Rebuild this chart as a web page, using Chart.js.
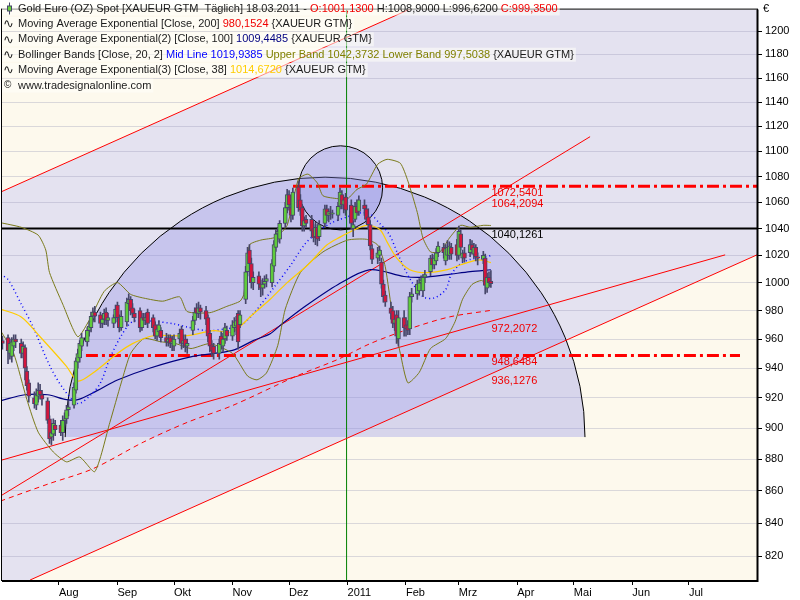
<!DOCTYPE html>
<html>
<head>
<title>Gold Euro (OZ) Spot</title>
<script src="https://cdn.jsdelivr.net/npm/chart.js"></script>
<style>
  html, body { margin: 0; padding: 0; background: #fff; }
  #chart { display: block; }
</style>
</head>
<body>
<canvas id="chart" width="800" height="600"></canvas>
<script>
// daily candles, 1 Jul 2010 .. 18 Mar 2011 (weekdays), grouped by month
const opens = [
  962,959, 961,950,948,955,960, 957,950,954,938,930, 920,915,921,925,922, 918,906,894,896,902,
  902,897,905,906,912, 915,925,944,947,955, 958,966,968,976,979, 977,971,974,979,973, 971,975,
  984,975,968, 972,985,988,982,978, 980,968,975,973,979, 975,970,962,965,966, 961,958,961,957,
  955, 960,967,957,960,955, 966,973,982,978,982, 980,975,964,956,955, 950,962,955,960,966,
  962,968,969,978,970, 988,1008,1024,1014,1000, 1005,999,996,999,1001, 1000,1012,1026,1036,1032, 1044,1056,
  1066,1056,1050, 1072,1062,1056,1042,1047, 1047,1040,1034,1041,1034, 1044,1055,1050,1052,1051, 1050,1057,1066,1058,1064,
  1058,1040,1047,1057,1053, 1058,1055,1049,1043,1025, 1018,1020,1015,999,991, 982,980,971,977,960, 975,
  970,970,967,990, 992,994,1000,994,1004, 1008,1018,1013,1016,1022, 1026,1016,1020,1020,1026, 1028,
  1020,1036,1018,1022, 1022,1028,1021,1026,1019, 1017,1018,996,1004,1001.13
];
const highs = [
  966,962, 963,960,961,963,963, 960,958,956,941,932, 924,926,930,929,925, 920,908,902,906,905,
  905,908,910,915,918, 930,947,953,959,964, 968,972,979,982,983, 979,977,981,982,978, 977,984,
  986,977,980, 989,992,990,985,981, 982,978,978,978,981, 977,972,970,973,968, 964,963,963,962,
  963, 967,969,963,963,960, 976,982,985,986,984, 983,977,966,959,957, 960,965,964,971,969,
  973,975,976,980,980, 1012,1026,1028,1018,1008, 1008,1002,1003,1005,1006, 1017,1031,1039,1041,1046, 1060,1070,
  1069,1060,1071, 1076,1066,1058,1049,1050, 1050,1043,1045,1043,1046, 1058,1058,1055,1057,1054, 1060,1071,1069,1064,1067,
  1062,1046,1060,1062,1065, 1062,1058,1055,1046,1028, 1026,1027,1018,1002,994, 986,983,977,980,980, 980,
  975,973,993,996, 1002,1003,1005,1006,1009, 1020,1021,1020,1025,1030, 1029,1028,1031,1030,1029, 1032,
  1042,1039,1024,1026, 1032,1031,1029,1028,1022, 1023,1021,1007,1008,1008.9
];
const lows = [
  956,953, 943,946,944,952,954, 947,947,932,925,917, 913,912,917,919,915, 903,890,889,892,895,
  895,892,902,903,908, 913,923,940,944,952, 955,962,965,972,972, 968,968,970,970,969, 968,972,
  972,965,966, 969,982,977,975,972, 965,966,970,970,968, 965,960,959,962,958, 955,955,954,952,
  952, 957,953,954,951,950, 963,970,975,975,974, 970,958,951,948,946, 946,953,951,957,959,
  959,965,963,953,968, 985,1005,1010,996,995, 995,990,991,996,997, 997,1008,1023,1030,1029, 1041,1052,
  1054,1045,1047, 1053,1050,1038,1038,1041, 1034,1030,1028,1027,1031, 1041,1046,1045,1047,1048, 1046,1055,1055,1052,1050,
  1040,1034,1045,1050,1050, 1050,1044,1040,1024,1014, 1014,1016,996,986,983, 974,968,966,957,955, 962,
  962,963,963,986, 988,991,996,990,1000, 1005,1010,1010,1013,1019, 1018,1013,1017,1017,1017, 1016,
  1017,1024,1015,1015, 1019,1021,1018,1016,1013, 1014,992,993,997,996.62
];
const closes = [
  959,957, 952,957,958,960,958, 950,955,940,928,921, 916,922,925,922,919, 905,893,897,903,899,
  897,905,906,912,914, 927,945,950,957,961, 966,969,976,979,976, 971,974,978,973,975, 975,981,
  975,968,976, 986,988,980,978,975, 968,975,973,975,971, 968,962,967,970,961, 958,960,957,958,
  960, 964,957,959,955,957, 973,979,978,982,979, 974,962,955,952,950, 957,956,960,968,962,
  970,972,973,958,977, 1008,1022,1014,1000,1004, 999,996,999,1001,1003, 1014,1028,1036,1038,1044, 1056,1066,
  1058,1050,1068, 1056,1054,1042,1046,1044, 1038,1033,1041,1032,1043, 1055,1050,1053,1051,1052, 1057,1068,1058,1062,1054,
  1044,1043,1057,1052,1062, 1055,1047,1043,1027,1017, 1022,1024,999,990,986, 978,971,974,962,975, 968,
  967,966,990,992, 999,1000,1002,1004,1006, 1018,1013,1018,1022,1027, 1022,1025,1026,1027,1021, 1020,
  1038,1026,1022,1018, 1028,1024,1026,1019,1018, 1020,998,1004,1000,999.35
];

// indicator lines: [day, price], day 0 = 1 Aug 2010
const ema200 = [[-31,853.6],[-5,864.5],[18,873.8],[45,891],[68,903.7],[92,914.8],[126,934.6],[148,946],[165,956.8],[186,967.2],[207,975.5],[229,980.15]];
const ema100 = [[-31,918],[-18,922],[-6,922],[4,918.7],[10,918.7],[20,924.6],[31,931.9],[48,939.9],[71,948],[92,952.1],[103,958.9],[112,963.7],[117,969.2],[130,982.5],[148,998.7],[165,1009.5],[183,1004.5],[193,1003.9],[206,1005.9],[218,1008.1],[229,1009.45]];
const ema38 = [[-31,981.1],[-20,975.5],[-10,961.6],[4,941.2],[10,931.2],[18,936.6],[31,950],[39,956.8],[50,962.3],[68,962.3],[82,965.8],[92,965.1],[103,977.6],[112,988.1],[121,1000.1],[132,1013.1],[142,1027.7],[149,1033.6],[154,1037.3],[163,1042.5],[170,1039.5],[174,1029.9],[179,1018.2],[186,1009.5],[195,1007.3],[206,1009.5],[213,1013.1],[223,1016.7],[229,1014.67]];
const bbMid = [[-31,1006],[-27,1002.3],[-20,984.6],[-14,969.2],[-5,941.9],[2,926.6],[10,916.1],[17,922],[22,929.9],[27,946.6],[33,962.3],[39,972.1],[48,972.7],[61,970.6],[68,968.4],[79,965.8],[89,967.2],[96,969.2],[103,977.6],[114,996.6],[123,1013.1],[130,1027.7],[137,1037.3],[144,1044],[153,1049],[160,1052],[165,1051],[170,1044],[175,1036],[180,1020],[186,1003],[193,990],[199,989],[205,995],[208,1006],[213,1014],[218,1017],[227,1019],[229,1019.94]];
const bbUpper = [[-31,1044.5],[-20,1041],[-11,1035.1],[-7,1024],[-5,1007.4],[2,984.6],[10,961.6],[17,975.5],[24,993.8],[31,1000.1],[38,991.6],[45,988.9],[55,986.7],[64,989.8],[68,979.3],[80,978.5],[89,983],[96,986.7],[98,991.6],[101,1027.7],[107,1031.4],[115,1033.6],[121,1042.5],[127,1078.1],[132,1081.9],[137,1075],[140,1065.1],[148,1062.8],[153,1062.8],[158,1070],[163,1074],[169,1089.7],[174,1093.6],[181,1090.5],[185,1076.5],[190,1052.2],[193,1032.9],[197,1022.6],[202,1022.6],[207,1032.9],[213,1042.5],[218,1041],[225,1042.5],[229,1042.37]];
const bbLower = [[-31,966],[-24,950],[-17,918.7],[-11,897.3],[-3,884.5],[4,878.2],[11,881.3],[19,872],[27,903.7],[33,929.9],[38,950],[45,960.3],[54,958.1],[62,956.8],[70,953.4],[80,956.8],[92,950],[100,934.6],[105,932],[110,936.6],[116,955.5],[120,981.1],[128,1007.4],[140,1022.6],[153,1031.4],[163,1032],[169,1027.7],[173,1011.7],[177,975],[181,950],[185,930],[191,937],[197,953.4],[205,960.3],[210,972.1],[214,988.1],[219,998.7],[224,1001.6],[229,997.5]];

// drawing tools on the chart: [day, price]
const channelTop = [[-31.3,1067.7],[186.7,1219.9]];
const channelBottom = [[-15.3,806.1],[370.1,1020.4]];
const steepLine = [[-31.3,856.5],[281.6,1111.7]];
const flatLine = [[-31.3,879],[353.2,1020.4]];
const highLevel = [[124.1,1072.5401],[370.1,1072.5401]];
const lowLevel = [[14.3,948.6484],[361.1,948.6484]];
const blackLevel = [[-31.3,1040.1261],[371,1040.1261]];
const yearLine = [[152.5,806],[152.5,1219]];
const arcCenter = [141.1, 894.1];
const arcRadius = 137.8;
const ringCenter = [149.3, 1071.2];
const ringRadius = 22.3;

const levelValues = [1072.5401, 1064.2094, 1040.1261, 972.2072, 948.6484, 936.1276];
const levelTexts = ['1072,5401', '1064,2094', '1040,1261', '972,2072', '948,6484', '936,1276'];
const levelColors = ['#f00000', '#f00000', '#000000', '#f00000', '#f00000', '#f00000'];

const monthDays = [0, 31, 61, 92, 122, 153, 184, 212, 243, 273, 304, 334];
const monthNames = ['Aug', 'Sep', 'Okt', 'Nov', 'Dez', '2011', 'Feb', 'Mrz', 'Apr', 'Mai', 'Jun', 'Jul'];
const yTicks = [820, 840, 860, 880, 900, 920, 940, 960, 980, 1000, 1020, 1040, 1060, 1080, 1100, 1120, 1140, 1160, 1180, 1200];

const legendLines = [
  [['Gold Euro (OZ) Spot [XAUEUR GTM  Täglich] 18.03.2011 - ', '#1a1a1a'], ['O:1001,1300', '#f00000'], [' H:1008,9000 L:996,6200 ', '#1a1a1a'], ['C:999,3500', '#f00000']],
  [['Moving Average Exponential [Close, 200] ', '#1a1a1a'], ['980,1524', '#f00000'], [' {XAUEUR GTM}', '#1a1a1a']],
  [['Moving Average Exponential(2) [Close, 100] ', '#1a1a1a'], ['1009,4485', '#000080'], [' {XAUEUR GTM}', '#1a1a1a']],
  [['Bollinger Bands [Close, 20, 2] ', '#1a1a1a'], ['Mid Line 1019,9385', '#0000ff'], [' Upper Band 1042,3732 Lower Band 997,5038', '#808000'], [' {XAUEUR GTM}', '#1a1a1a']],
  [['Moving Average Exponential(3) [Close, 38] ', '#1a1a1a'], ['1014,6720', '#ffcc00'], [' {XAUEUR GTM}', '#1a1a1a']],
  [['www.tradesignalonline.com', '#1a1a1a']]
];

if (opens.length !== closes.length || highs.length !== closes.length || lows.length !== closes.length) {
  throw new Error('length mismatch ' + [opens.length, highs.length, lows.length, closes.length].join(','));
}

// weekday positions in days from 1 Aug 2010
const days = [];
for (let t = Date.UTC(2010, 6, 1); days.length < closes.length; t += 86400000) {
  const wd = new Date(t).getUTCDay();
  if (wd !== 0 && wd !== 6) days.push((t - Date.UTC(2010, 7, 1)) / 86400000);
}

const pts = arr => arr.map(p => ({ x: p[0], y: p[1] }));
const FONT = '"Liberation Sans", Arial, sans-serif';

function lineSet(arr, color, width, dash, order, tension) {
  return {
    type: 'line', data: pts(arr), borderColor: color, borderWidth: width,
    borderDash: dash || [], pointRadius: 0, fill: false, tension: tension || 0, order: order
  };
}

const drawings = {
  id: 'drawings',
  beforeDraw(chart) {
    const { ctx, chartArea: a, scales: { x, y } } = chart;
    const edge = (line, px) => {
      const x0 = x.getPixelForValue(line[0][0]), y0 = y.getPixelForValue(line[0][1]);
      const x1 = x.getPixelForValue(line[1][0]), y1 = y.getPixelForValue(line[1][1]);
      return y0 + (y1 - y0) / (x1 - x0) * (px - x0);
    };
    ctx.save();
    ctx.fillStyle = '#ffffff';
    ctx.fillRect(0, 0, chart.width, chart.height);
    ctx.fillStyle = '#fdf9ed';
    ctx.fillRect(a.left, a.top, a.width, a.height);
    ctx.beginPath();
    ctx.rect(a.left, a.top, a.width, a.height);
    ctx.clip();
    ctx.beginPath();
    ctx.moveTo(a.left, edge(channelTop, a.left));
    ctx.lineTo(a.right, edge(channelTop, a.right));
    ctx.lineTo(a.right, edge(channelBottom, a.right));
    ctx.lineTo(a.left, edge(channelBottom, a.left));
    ctx.closePath();
    ctx.fillStyle = '#e4e2f0';
    ctx.fill();
    ctx.restore();
  },
  beforeDatasetsDraw(chart) {
    const { ctx, chartArea: a, scales: { x, y } } = chart;
    ctx.save();
    ctx.beginPath();
    ctx.rect(a.left, a.top, a.width, a.height);
    ctx.clip();
    ctx.fillStyle = 'rgba(140,140,230,0.33)';
    ctx.strokeStyle = '#000';
    ctx.lineWidth = 1;
    // half circle
    let cx = x.getPixelForValue(arcCenter[0]), cy = y.getPixelForValue(arcCenter[1]);
    let r = x.getPixelForValue(arcCenter[0] + arcRadius) - cx;
    ctx.beginPath();
    ctx.arc(cx, cy, r, Math.PI, 2 * Math.PI);
    ctx.closePath();
    ctx.fill();
    ctx.beginPath();
    ctx.arc(cx, cy, r, Math.PI, 2 * Math.PI);
    ctx.stroke();
    // small circle
    cx = x.getPixelForValue(ringCenter[0]);
    cy = y.getPixelForValue(ringCenter[1]);
    r = x.getPixelForValue(ringCenter[0] + ringRadius) - cx;
    ctx.beginPath();
    ctx.arc(cx, cy, r, 0, 2 * Math.PI);
    ctx.fill();
    ctx.stroke();
    ctx.restore();
  },
  afterDraw(chart) {
    const { ctx, chartArea: a, scales: { x, y } } = chart;
    ctx.save();
    // frame
    ctx.strokeStyle = '#000';
    ctx.lineWidth = 1;
    ctx.strokeRect(a.left - 0.5, a.top - 0.5, a.width + 1, a.height + 1);
    ctx.lineWidth = 2;
    ctx.beginPath();
    ctx.moveTo(a.right + 0.5, a.top);
    ctx.lineTo(a.right + 0.5, a.bottom + 1);
    ctx.lineTo(a.left, a.bottom + 1);
    ctx.stroke();

    // value labels next to the last bar
    ctx.font = '11px ' + FONT;
    ctx.textBaseline = 'middle';
    ctx.textAlign = 'left';
    const lx = x.getPixelForValue(229.3);
    levelValues.forEach((v, i) => {
      ctx.fillStyle = levelColors[i];
      ctx.fillText(levelTexts[i], lx, y.getPixelForValue(v) + 7);
    });

    // currency sign
    ctx.fillStyle = '#000';
    ctx.fillText('€', a.right + 6, 9);

    // legend block
    const legendFont = '11px ' + FONT;
    ctx.font = legendFont;
    legendLines.forEach((parts, i) => {
      const ly = 8.5 + i * 15.4;
      let lxx = 18;
      const w = parts.reduce((s, p) => s + ctx.measureText(p[0]).width, 0);
      ctx.fillStyle = 'rgba(255,255,250,0.55)';
      ctx.fillRect(a.left, ly - 7, lxx + w, 14);
      parts.forEach(p => {
        ctx.fillStyle = p[1];
        ctx.fillText(p[0], lxx, ly);
        lxx += ctx.measureText(p[0]).width;
      });
      ctx.fillStyle = '#1a1a1a';
      if (i === 0) {
        ctx.fillStyle = '#47476a';
        ctx.fillRect(9, ly - 6, 1, 12);
        ctx.fillRect(7, ly - 3, 5, 6);
        ctx.fillStyle = '#6ad23c';
        ctx.fillRect(8, ly - 2, 3, 4);
      } else if (i === 5) {
        ctx.font = '10px ' + FONT;
        ctx.fillText('©', 4, ly);
        ctx.font = legendFont;
      } else {
        ctx.font = '13px "DejaVu Sans", sans-serif';
        ctx.fillText('∿', 3, ly + 1);
        ctx.font = legendFont;
      }
    });
    ctx.restore();
  }
};

const upColor = '#5fcc3c';
const downColor = '#d4163c';
const edgeColor = '#47476a';

new Chart(document.getElementById('chart'), {
  type: 'bar',
  data: {
    datasets: [
      {
        type: 'bar', order: 0,
        data: days.map((d, i) => ({ x: d, y: [opens[i], closes[i]] })),
        backgroundColor: closes.map((c, i) => c >= opens[i] ? upColor : downColor),
        borderColor: edgeColor, borderWidth: 1, borderSkipped: false,
        barThickness: 4, grouped: false, minBarLength: 1
      },
      {
        type: 'bar', order: 1,
        data: days.map((d, i) => ({ x: d, y: [lows[i], highs[i]] })),
        backgroundColor: edgeColor, barThickness: 1, grouped: false
      },
      lineSet(ema38, '#ffcc00', 1.2, null, 2, 0.3),
      lineSet(bbMid, '#0000ff', 1.5, [1, 3], 3, 0.3),
      lineSet(bbUpper, '#7a7a1a', 1, null, 4, 0.2),
      lineSet(bbLower, '#7a7a1a', 1, null, 5, 0.2),
      lineSet(ema100, '#000080', 1.2, null, 6, 0.3),
      lineSet(ema200, '#ff0000', 1, [5, 4], 7, 0.3),
      lineSet(highLevel, '#ff0000', 3, [12, 4, 3, 4], 8),
      lineSet(lowLevel, '#ff0000', 3, [12, 4, 3, 4], 9),
      lineSet(blackLevel, '#000000', 2, null, 10),
      lineSet(steepLine, '#ff0000', 1, null, 11),
      lineSet(flatLine, '#ff0000', 1, null, 12),
      lineSet(channelTop, '#ff0000', 1, null, 13),
      lineSet(channelBottom, '#ff0000', 1, null, 14),
      lineSet(yearLine, '#008000', 1, null, 15)
    ]
  },
  options: {
    responsive: false,
    animation: false,
    layout: { padding: { left: 2, top: 1, right: 0, bottom: 0 } },
    plugins: { legend: { display: false }, tooltip: { enabled: false } },
    scales: {
      x: {
        type: 'linear', min: -30.2, max: 370.1, bounds: 'data', offset: false,
        grid: { drawOnChartArea: false, drawTicks: true, tickLength: 5, tickColor: '#000', offset: false },
        border: { display: false },
        afterBuildTicks: s => { s.ticks = monthDays.map(v => ({ value: v })); },
        afterFit: s => { s.height = 20; },
        ticks: {
          autoSkip: false, maxRotation: 0, align: 'start', padding: 1, color: '#000',
          font: { family: FONT, size: 11 },
          callback: (v, i) => monthNames[i]
        }
      },
      y: {
        type: 'logarithmic', position: 'right', min: 806.1, max: 1219, bounds: 'data',
        grid: { color: 'rgba(150,150,180,0.33)', drawTicks: true, tickLength: 5, tickColor: '#000' },
        border: { display: false },
        afterBuildTicks: s => { s.ticks = yTicks.map(v => ({ value: v })); },
        afterFit: s => { s.width = 43; },
        ticks: {
          autoSkip: false, padding: 3, color: '#000',
          font: { family: FONT, size: 11 },
          callback: v => String(v)
        }
      }
    }
  },
  plugins: [drawings]
});
</script>
</body>
</html>
